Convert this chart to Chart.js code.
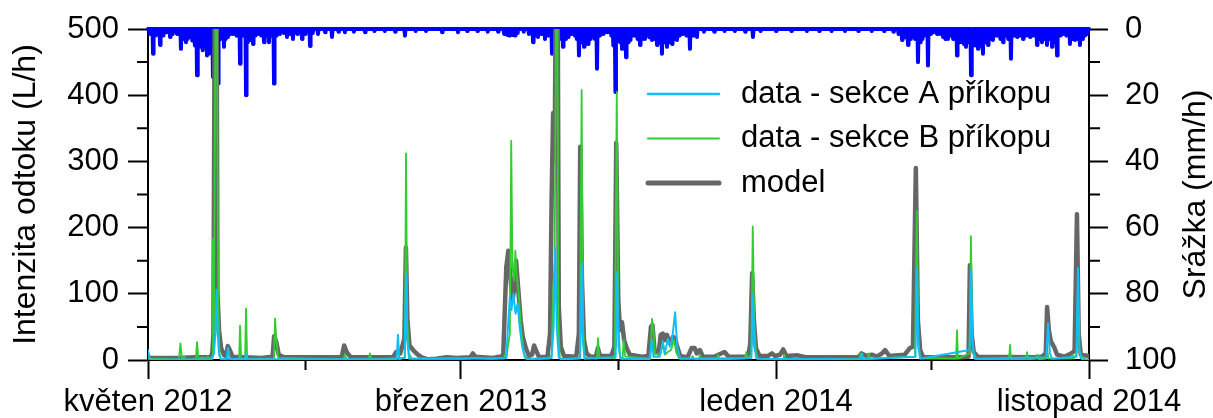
<!DOCTYPE html>
<html>
<head>
<meta charset="utf-8">
<script src="https://cdn.jsdelivr.net/npm/chart.js@4.4.0/dist/chart.umd.min.js"></script>
<style>
  html, body { margin: 0; padding: 0; background: #fff; }
  #wrap { width: 1213px; height: 418px; }
</style>
</head>
<body>
<div id="wrap"><canvas id="runoffChart" width="1213" height="418"></canvas></div>
<script>
// x values are days counted from 1 May 2012
const xLabelDays = [0, 304, 610, 914];
const xLabels = ["květen 2012", "březen 2013", "leden 2014", "listopad 2014"];
const xMinorDays = [153, 457, 761];
const flowMinor = [50, 150, 250, 350, 450];
const rainMinor = [10, 30, 50, 70, 90];

// runoff intensity (L/h) as [day, value]
const modelFlow = [
  [0,5],[2,3],[30,3],[45,4],[61,4],[62.5,12],[63.5,38],[65,620],[66.5,620],[67.5,100],[69,45],[71,18],[74,7],
  [76,6],[77.5,21],[79.5,15],[82,5],[110,3],[121,5],[122.5,36],[124.5,28],[127,8],[132,4],[188,4],[190.5,22],
  [193,12],[197,4],[238,4],[241,12],[245,10],[249,32],[250.5,170],[252,60],[254,22],[258,14],[262,8],[266,4],
  [272,1],[280,2],[290,4],[300,3],[313,4],[315.5,10],[318,5],[335,3],[345,6],[348,140],[350,165],[352,125],
  [354,90],[356,110],[357.5,150],[359.5,110],[362,60],[364,35],[367,18],[370,6],[373,8],[375,22],[377,14],
  [380,4],[388,5],[390.5,40],[392,240],[393.5,373],[395,300],[396.3,620],[397.8,620],[399,80],[401,20],[404,6],
  [416,5],[418.5,40],[419.8,322],[421.5,120],[423.5,30],[426,10],[430,5],[435,5],[437,18],[439,6],[450,6],
  [453,20],[454.8,328],[456.8,90],[458.5,45],[460.4,57],[462.5,30],[465,18],[468,8],[480,5],[486,6],[488.5,50],
  [490,53],[492,15],[496,10],[498,38],[500,40],[502,30],[504,38],[507,25],[510,35],[512,33],[514,20],[517,6],
  [524,4],[528,18],[531,18],[533,10],[536,15],[539,5],[550,5],[554,8],[560,12],[564,5],[583,5],[585,25],
  [586.8,131],[588.5,60],[590.5,18],[594,6],[602,6],[606,10],[609,6],[614,8],[617,16],[620,6],[631,7],[640,4],
  [690,4],[693,10],[698,6],[703,8],[708,5],[713,10],[716,15],[720,6],[735,8],[740,18],[743,20],[745.8,290],
  [747.8,60],[750,15],[753,4],[790,4],[797,5],[798.3,143],[800,40],[802,12],[806,5],[860,4],[868,5],[872,10],
  [873.3,80],[875,45],[877,28],[880,20],[883,8],[890,5],[897,10],[900,14],[902.3,220],[904,40],[906,8],[914,6]
];

const sectionA = [
  [0,15],[1.5,3],[3,0.5],[62,1],[64,10],[65.5,40],[66.5,106],[67.5,45],[69,8],[71,1],[76.3,2],[77.7,18],
  [79.5,2],[94.5,1],[95.2,8],[96,1],[241.5,1],[242.8,38],[244,1],[249.3,4],[250.6,130],[251.8,30],[253.5,2],
  [348,3],[350,60],[351.5,95],[353,75],[355,100],[357,70],[359,85],[361,50],[363.5,20],[366,4],[368,1],
  [392,3],[394,50],[395.5,170],[397,50],[399,4],[401,1],[419.8,3],[421.3,146],[422.6,25],[424,2],
  [454.2,4],[455.6,133],[457,20],[459,2],[487,1],[489.5,30],[491,5],[497,5],[500,28],[502,10],[505,32],
  [507,20],[509,30],[512,72],[514,20],[517,2],[586,3],[587.5,100],[589,20],[591,2],[692.5,1],[693.5,10],
  [694.5,1],[745.5,5],[746.9,139],[748.3,20],[750,2],[798,15],[799.4,136],[800.8,25],[803,2],[872.5,4],
  [874.2,55],[876,10],[878,2],[901.8,5],[903.3,139],[904.8,15],[907,1],[914,0]
];

const sectionB = [
  [0,2],[30,1],[31.5,25],[33,2],[35,5],[36.5,1],[46.5,1],[47.6,27],[49,2],[53,4],[55,2],[58,5],[60,2],
  [62.2,5],[63.1,183],[64,40],[65.8,620],[66.8,620],[67.5,305],[68.3,80],[69.5,10],[71,2],[88.5,1],[89.4,52],
  [90.5,2],[94.3,1],[95.2,78],[96.3,2],[122.3,2],[123.4,63],[124.8,28],[126.5,3],[190,1],[191.3,8],[193,1],
  [214.5,1],[215.6,10],[217,1],[249.5,3],[250.6,312],[251.8,60],[253.5,10],[256,2],[346,2],[347,9],[348,3],
  [351.5,40],[352.8,331],[354,140],[355.5,120],[356.8,165],[358.2,125],[360,100],[362.5,45],[365,10],[368,2],
  [390,2],[392,8],[393.5,100],[395,150],[396.6,620],[397.6,620],[398.5,60],[400,4],[402,1],[419.5,2],
  [421.2,408],[422.5,60],[424,4],[436,2],[437.1,33],[438.3,4],[453.5,3],[455.3,405],[456.8,60],[458.5,5],
  [461,2],[462,30],[463.5,5],[488,2],[489.5,62],[491,45],[492.5,8],[498,10],[500,25],[502,8],[505,12],
  [508,15],[511,30],[513,12],[516,2],[528,2],[529,6],[530,2],[535,1],[536,8],[537,1],[552.6,1],[553.6,8],
  [554.6,1],[580,2],[581,12],[582,2],[586,8],[587.4,202],[588.8,60],[590.5,10],[593,2],[617,1],[618,8],
  [619,1],[691,2],[692,10],[693.5,3],[699,2],[700,10],[701,2],[745,5],[746.7,225],[748.3,30],[750,3],
  [784.8,2],[785.8,45],[786.8,2],[798,10],[799.3,187],[800.8,25],[802.5,3],[803.3,8],[804.5,1],[836.3,1],
  [837.3,23],[838.3,1],[852.8,1],[853.8,12],[854.8,1],[863,2],[864,8],[865,1],[872.5,2],[873.5,15],
  [874.5,2],[897,2],[898,8],[899,2],[902,10],[903.2,100],[904.5,15],[906,3],[908,5],[910,1],[914,1]
];

// rainfall intensity (mm/h) as [day, value]
const rainfall = [
  [2,1.5],[4.9,7.5],[7,2],[9,1.5],[11.7,4.8],[14.6,2],[18,1],[21.4,2.4],[24,1.5],[28.2,1.5],[32,6],[34,3],
  [36.9,4],[38.5,3],[40.8,2.4],[43,3.5],[45.5,5],[47.6,14],[49,4],[50.5,5.4],[52,4],[53.4,6.4],[55.3,5],
  [57.3,8],[59.2,7.5],[61,3],[63.1,14.5],[68,16.5],[70,3],[72,2],[73.8,5.4],[75.5,3],[77.7,2.4],[80,1.5],
  [82.6,1.5],[86,2],[89.4,10.5],[92,2],[95.2,20],[97,4],[99,3.3],[102,4.5],[104,2],[106.8,1.5],[110,2],
  [112.7,4],[115,2],[117.5,4],[120,2],[122.4,16.5],[125,2],[128.2,1.5],[132,1.2],[135,2.4],[138,1.5],
  [140.8,3],[145,1.5],[149.6,3],[153,1.5],[157.4,5.1],[160,1.2],[165.1,1.5],[172,1],[178.7,2.4],[185,0.8],
  [191.3,1],[200,0.8],[210.8,1],[220,0.6],[230,0.6],[240,0.8],[249.6,2],[260,0.6],[270,0.6],[285.6,1],
  [301.1,1],[310,0.6],[320,0.6],[330,0.8],[340,0.8],[346,1.5],[349,1.8],[351.6,2],[354,1.8],[356.5,2],
  [358.6,1.2],[365,0.8],[370,1.5],[374,4],[376.5,2],[378.8,2.4],[382,1.5],[385.6,3],[389,2],[392.4,7.5],
  [395,2],[397,2],[400,3],[403.1,5.4],[405.5,3],[408,2.4],[411,1.5],[414.7,2],[416.5,3],[418.6,8],
  [421,4],[423.5,5.4],[425.5,3],[427.4,4.5],[429.5,3],[431.3,2],[434,3],[436.1,12],[439,2],[442,1.5],
  [446,1],[450,2],[452,5],[454,19],[456.5,3.3],[458.5,4],[460.4,6],[462.3,4],[464.3,8.5],[466.3,4],
  [468.2,3.3],[470.5,2],[473,2],[475.5,3],[477.9,4.8],[480.3,3],[482.7,3],[485,2],[487,2.5],[489.5,3.3],
  [492,3],[494.4,4.8],[496.8,4],[499.2,7.5],[501.5,4],[504.1,5.4],[506.5,4],[509,4.5],[511.5,3],[513.8,3.3],
  [516.5,2],[519.6,1.5],[523,2],[526.4,6],[530,2],[533.2,2.4],[540,0.8],[550,0.8],[560,0.6],[570,0.6],
  [580,0.8],[587.6,2.4],[595,0.6],[610,0.6],[625,0.6],[640,0.6],[652,0.6],[664,0.6],[677,0.6],[690,0.6],
  [703,0.6],[715,0.6],[724,0.8],[729,1.5],[732.4,3.3],[735,2.5],[738.2,4.8],[740.5,3],[743,2],[745,3],
  [747.9,10],[750,4],[751.8,3],[754,2],[757.6,11],[760,1.5],[763,1],[766.4,1.5],[769,1.5],[772.2,2.4],
  [774.5,3],[777,3],[779.5,2],[782,3],[785.8,8],[788,4],[790.6,4],[792.5,4.5],[794.5,5.4],[796.5,4],
  [799.4,14],[800.8,5],[802.3,4.8],[804,5],[806.2,6],[808.5,5],[811,7.5],[813.5,4],[815.9,4.8],[818.3,3],
  [820.7,3.3],[823,2],[825.6,2],[828,3],[830.5,4],[833,2],[835.5,3],[838.2,9],[841,2],[844.1,2.4],[847,2],
  [849.9,3],[853,2],[856.7,2.4],[860,2],[863.5,4.8],[866,3],[868.3,4],[870.5,3],[873.2,4.8],[875.5,3],
  [878.1,5.4],[880.5,4],[883,8],[886,2],[888.7,1.5],[892,2],[895.5,4.5],[898,3],[900.4,3.3],[903,3],
  [905.2,4.8],[907.6,3],[910.1,2],[912,1.5]
];

const toPoints = (arr) => arr.map(([x, y]) => ({ x, y }));

// each rain value becomes a narrow spike hanging from the top axis
function rainPoints(arr) {
  const pts = [{ x: 0, y: 0 }];
  arr.forEach(([d, v]) => {
    pts.push({ x: d - 0.5, y: 0 }, { x: d, y: v }, { x: d + 0.5, y: 0 });
  });
  pts.push({ x: 914, y: 0 });
  return pts;
}

const FONT = "'Liberation Sans', Arial, sans-serif";
Chart.defaults.font.family = FONT;
Chart.defaults.color = '#000';

const legendItems = [
  { text: 'data - sekce A příkopu', color: '#13bdf7', width: 2.5 },
  { text: 'data - sekce B příkopu', color: '#33cc33', width: 2 },
  { text: 'model', color: '#666666', width: 5 }
];

const decor = {
  id: 'decor',
  afterDraw(chart) {
    const { ctx, chartArea: a, scales } = chart;
    ctx.save();
    ctx.strokeStyle = '#000';
    ctx.lineWidth = 2;
    ctx.beginPath();
    xMinorDays.forEach(d => {
      const px = scales.x.getPixelForValue(d);
      ctx.moveTo(px, a.bottom); ctx.lineTo(px, a.bottom + 10);
    });
    flowMinor.forEach(v => {
      const py = scales.y.getPixelForValue(v);
      ctx.moveTo(a.left - 11, py); ctx.lineTo(a.left, py);
    });
    rainMinor.forEach(v => {
      const py = scales.rain.getPixelForValue(v);
      ctx.moveTo(a.right, py); ctx.lineTo(a.right + 11, py);
    });
    ctx.stroke();

    // axis titles
    ctx.fillStyle = '#000';
    ctx.font = '32px ' + FONT;
    ctx.textAlign = 'center';
    ctx.textBaseline = 'alphabetic';
    const midY = (a.top + a.bottom) / 2;
    ctx.save();
    ctx.translate(35, midY);
    ctx.rotate(-Math.PI / 2);
    ctx.fillText('Intenzita odtoku (L/h)', 0, 0);
    ctx.restore();
    ctx.save();
    ctx.translate(1205, midY);
    ctx.rotate(-Math.PI / 2);
    ctx.fillText('Srážka (mm/h)', 0, 0);
    ctx.restore();

    // legend
    ctx.font = '31px ' + FONT;
    ctx.textAlign = 'left';
    ctx.textBaseline = 'middle';
    legendItems.forEach((it, i) => {
      const y = 94 + i * 44.5;
      ctx.strokeStyle = it.color;
      ctx.lineWidth = it.width;
      ctx.lineCap = 'round';
      ctx.beginPath();
      ctx.moveTo(648, y); ctx.lineTo(719, y);
      ctx.stroke();
      ctx.fillText(it.text, 741, y);
    });
    ctx.restore();
  }
};

// keep the axis boxes at fixed sizes, without extra label padding
const fixY = (w) => (scale) => { scale.width = w; scale.paddingTop = 0; scale.paddingBottom = 0; };

new Chart(document.getElementById('runoffChart'), {
  type: 'line',
  data: {
    datasets: [
      { label: 'data - sekce A příkopu', data: toPoints(sectionA), borderColor: '#13bdf7', borderWidth: 2, order: 0 },
      { label: 'data - sekce B příkopu', data: toPoints(sectionB), borderColor: '#33cc33', borderWidth: 1.8, order: 1 },
      { label: 'model', data: toPoints(modelFlow), borderColor: '#666666', borderWidth: 4.5, order: 2 },
      { label: 'srážka', data: rainPoints(rainfall), yAxisID: 'rain', borderColor: '#0000ff', borderWidth: 4, order: 3, clip: false }
    ]
  },
  options: {
    responsive: false,
    animation: false,
    events: [],
    layout: { padding: { top: 29, left: 0, right: 0, bottom: 0 } },
    elements: {
      point: { radius: 0 },
      line: { tension: 0, borderJoinStyle: 'round', borderCapStyle: 'round' }
    },
    plugins: { legend: { display: false }, tooltip: { enabled: false } },
    scales: {
      x: {
        type: 'linear',
        min: 0,
        max: 914,
        afterBuildTicks: (scale) => { scale.ticks = xLabelDays.map(v => ({ value: v })); },
        afterFit: (scale) => { scale.height = 58; scale.paddingLeft = 0; scale.paddingRight = 0; },
        ticks: {
          callback: (v, i) => xLabels[i],
          font: { size: 31 },
          padding: 5,
          maxRotation: 0,
          autoSkip: false
        },
        grid: { drawOnChartArea: false, tickLength: 19, tickWidth: 2, tickColor: '#000' },
        border: { color: '#000', width: 2 }
      },
      y: {
        position: 'left',
        min: 0,
        max: 500,
        afterFit: fixY(148),
        ticks: { stepSize: 100, font: { size: 31 }, padding: 9 },
        grid: { drawOnChartArea: false, tickLength: 20, tickWidth: 2, tickColor: '#000' },
        border: { color: '#000', width: 2 }
      },
      rain: {
        position: 'right',
        reverse: true,
        min: 0,
        max: 100,
        afterFit: fixY(124),
        ticks: { stepSize: 20, font: { size: 31 }, padding: 17 },
        grid: { drawOnChartArea: false, tickLength: 19, tickWidth: 2, tickColor: '#000' },
        border: { color: '#000', width: 2 }
      }
    }
  },
  plugins: [decor]
});
</script>
</body>
</html>
